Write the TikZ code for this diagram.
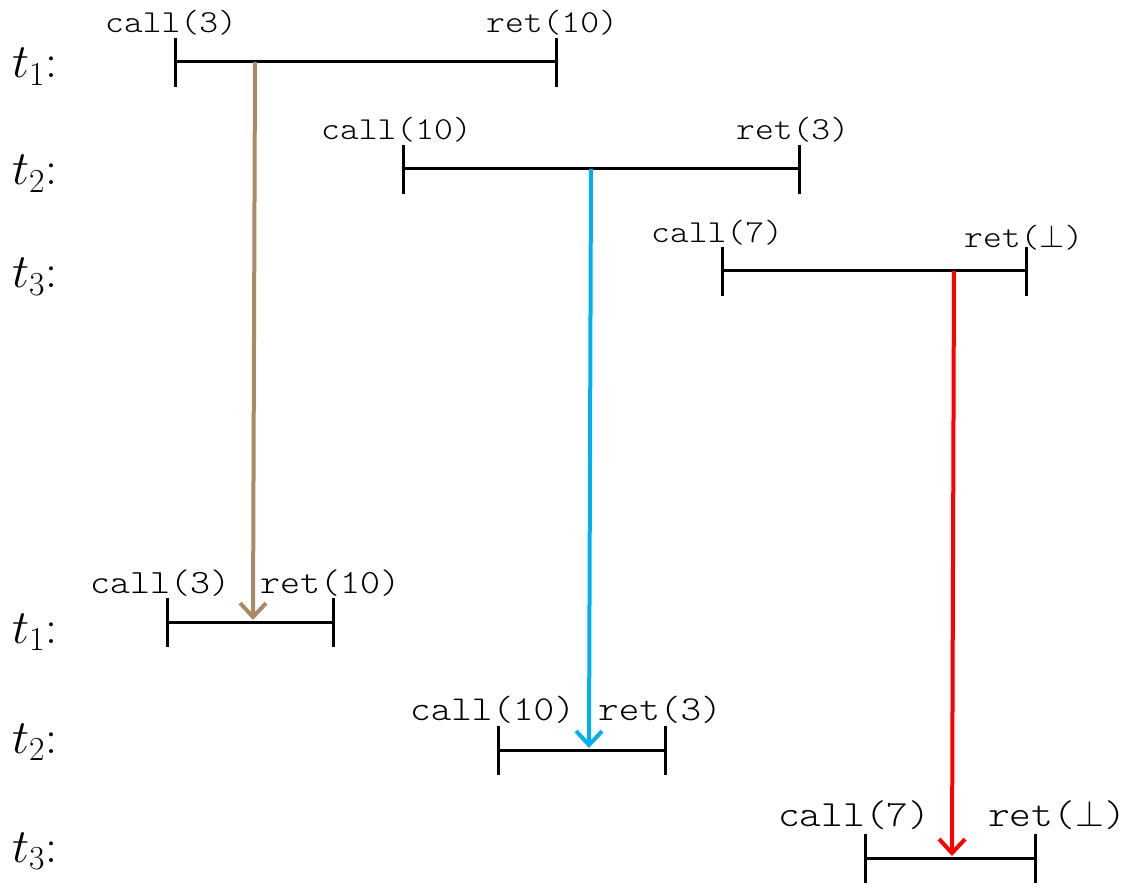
\RequirePackage{fix-cm}
\documentclass[tikz,border=0pt]{standalone}
\usepackage{fontspec}
\setmonofont{Latin Modern Mono Light}[FakeStretch=1.12]
\usetikzlibrary{arrows.meta}
\definecolor{brownarrow}{RGB}{168,138,100}
\definecolor{bluearrow}{RGB}{0,176,240}
\definecolor{redarrow}{RGB}{255,0,0}
\tikzset{
  lbl/.style={font=\fontsize{32}{32}\selectfont\ttfamily, anchor=base west, inner sep=0pt},
  lblb/.style={lbl, font=\fontsize{#1}{#1}\selectfont\ttfamily},
  tlab/.style={font=\fontsize{48}{48}\selectfont, anchor=base west, inner sep=0pt},
  ival/.style={line width=3pt, black},
  flow/.style={line width=4pt, -{Straight Barb[length=14pt,width=26pt,line width=4pt]}},
}
\newcommand{\ivl}[4]{% name, x1, x2, y
  \coordinate (#1s) at (#2,#4);
  \coordinate (#1e) at (#3,#4);
  \draw[ival] (#1s) -- (#1e);
  \draw[ival] ([yshift=24pt]#1s) -- ([yshift=-25pt]#1s);
  \draw[ival] ([yshift=24pt]#1e) -- ([yshift=-25pt]#1e);
}
\newcommand{\myperp}{$\perp$}
\begin{document}
\begin{tikzpicture}[x=1pt,y=-1pt]
\useasboundingbox (0,0) rectangle (1128,893);
% left labels
\node[tlab] (L1) at (12,78) {$t_1$:};
\node[tlab] (L2) at (12,185) {$t_2$:};
\node[tlab] (L3) at (12,288) {$t_3$:};
\node[tlab] (B1) at (12,643) {$t_1$:};
\node[tlab] (B2) at (12,753) {$t_2$:};
\node[tlab] (B3) at (12,862) {$t_3$:};
% top intervals
\ivl{a}{175}{556}{62}
\ivl{b}{403}{799}{169}
\ivl{c}{722}{1026}{271}
% bottom intervals
\ivl{d}{167}{333}{622}
\ivl{e}{498}{665}{750}
\ivl{f}{865}{1035}{858}
% top labels
\node[lbl] (ca) at (105,33) {call(3)};
\node[lbl] (ra) at (486,33) {ret(10)};
\node[lbl] (cb) at (321,140) {call(10)};
\node[lbl] (rb) at (736,140) {ret(3)};
\node[lbl] (cc) at (651,243) {call(7)};
\node[lbl] (rc) at (964,248) {ret(\myperp)};
% bottom labels
\node[lblb=34] (cd) at (90,593) {call(3)};
\node[lblb=34] (rd) at (260,593) {ret(10)};
\node[lblb=35] (ce) at (410,720) {call(10)};
\node[lblb=35] (re) at (598,720) {ret(3)};
\node[lblb=37] (cf) at (778,826) {call(7)};
\node[lblb=37] (rf) at (988,826) {ret(\myperp)};
% arrows
\coordinate (p1) at (255,62);
\coordinate (q1) at (253,620);
\coordinate (p2) at (591,169);
\coordinate (q2) at (589,748);
\coordinate (p3) at (954,271);
\coordinate (q3) at (952,856);
\draw[flow, brownarrow] (p1) -- (q1);
\draw[flow, bluearrow] (p2) -- (q2);
\draw[flow, redarrow] (p3) -- (q3);
\end{tikzpicture}
\end{document}
